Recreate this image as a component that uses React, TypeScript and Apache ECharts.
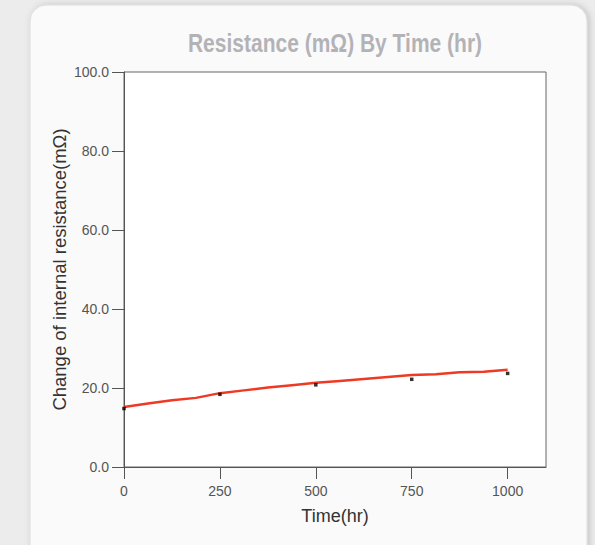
import React, { useEffect, useRef } from "react";
import * as echarts from "echarts";

const lineTimes = [0, 62.5, 125, 187.5, 250, 312.5, 375, 437.5, 500, 562.5, 625, 687.5, 750, 812.5, 875, 937.5, 1000];
const lineValues = [15.2, 16.1, 16.9, 17.5, 18.7, 19.4, 20.1, 20.7, 21.3, 21.8, 22.3, 22.8, 23.3, 23.5, 24.0, 24.1, 24.6];
const markerTimes = [0, 250, 500, 750, 1000];
const markerValues = [14.8, 18.4, 20.8, 22.2, 23.7];
const title = "Resistance (mΩ) By Time (hr)";
const xName = "Time(hr)";
const yName = "Change of internal resistance(mΩ)";

export default function App() {
  const ref = useRef<HTMLDivElement>(null);
  useEffect(() => {
    if (!ref.current) return;
    const chart = echarts.init(ref.current, null, { renderer: "svg" });
    const sans = "'Liberation Sans', Arial, sans-serif";
    chart.setOption({
      animation: false,
      backgroundColor: "#ececec",
      graphic: {
        elements: [
          {
            type: "rect",
            z: -10,
            shape: { x: 30, y: 5, width: 557, height: 570, r: 16 },
            style: {
              fill: "#fafafa",
              stroke: "#dcdcdc",
              lineWidth: 1,
              shadowBlur: 6,
              shadowOffsetX: 2,
              shadowColor: "rgba(0,0,0,0.18)",
            },
          },
          {
            type: "text",
            z: 10,
            x: 335,
            y: 43,
            scaleX: 0.84,
            style: {
              text: title,
              fontFamily: sans,
              fontWeight: "bold",
              fontSize: 25,
              fill: "#b3b3b7",
              textAlign: "center",
              textVerticalAlign: "middle",
            },
          },
        ],
      },
      grid: {
        left: 124,
        right: 49,
        top: 72,
        bottom: 78,
        show: true,
        backgroundColor: "#ffffff",
        borderColor: "#666",
        borderWidth: 1,
      },
      xAxis: {
        type: "value",
        min: 0,
        max: 1100,
        interval: 250,
        name: xName,
        nameLocation: "middle",
        nameGap: 40,
        nameMoveOverlap: false,
        nameTextStyle: { fontFamily: sans, fontSize: 18, color: "#333" },
        axisLine: { show: true, lineStyle: { color: "#555", width: 1 } },
        axisTick: { show: true, length: 12, lineStyle: { color: "#555" } },
        axisLabel: {
          fontFamily: sans,
          fontSize: 14,
          color: "#555",
          margin: 17,
          showMaxLabel: false,
          formatter: (v: number) => (v > 1000 ? "" : String(v)),
        },
        splitLine: { show: false },
      },
      yAxis: {
        type: "value",
        min: 0,
        max: 100,
        interval: 20,
        name: yName,
        nameLocation: "middle",
        nameRotate: 90,
        nameGap: 55,
        nameMoveOverlap: false,
        nameTextStyle: { fontFamily: sans, fontSize: 18.5, color: "#333" },
        axisLine: { show: true, lineStyle: { color: "#555", width: 1 } },
        axisTick: { show: true, length: 12, lineStyle: { color: "#555" } },
        axisLabel: {
          fontFamily: sans,
          fontSize: 14,
          color: "#555",
          margin: 15,
          formatter: (v: number) => v.toFixed(1),
        },
        splitLine: { show: false },
      },
      series: [
        {
          type: "line",
          data: lineTimes.map((t, i) => [t, lineValues[i]]),
          showSymbol: false,
          symbol: "none",
          lineStyle: { color: "#ee3a24", width: 2.5 },
          z: 2,
        },
        {
          type: "scatter",
          data: markerTimes.map((t, i) => [t, markerValues[i]]),
          symbol: "rect",
          symbolSize: 3.5,
          itemStyle: { color: "#000" },
          z: 3,
        },
      ],
    });
    return () => chart.dispose();
  }, []);
  return (
    <div
      ref={ref}
      style={{ position: "absolute", left: 0, top: 0, width: 595, height: 545 }}
    />
  );
}
